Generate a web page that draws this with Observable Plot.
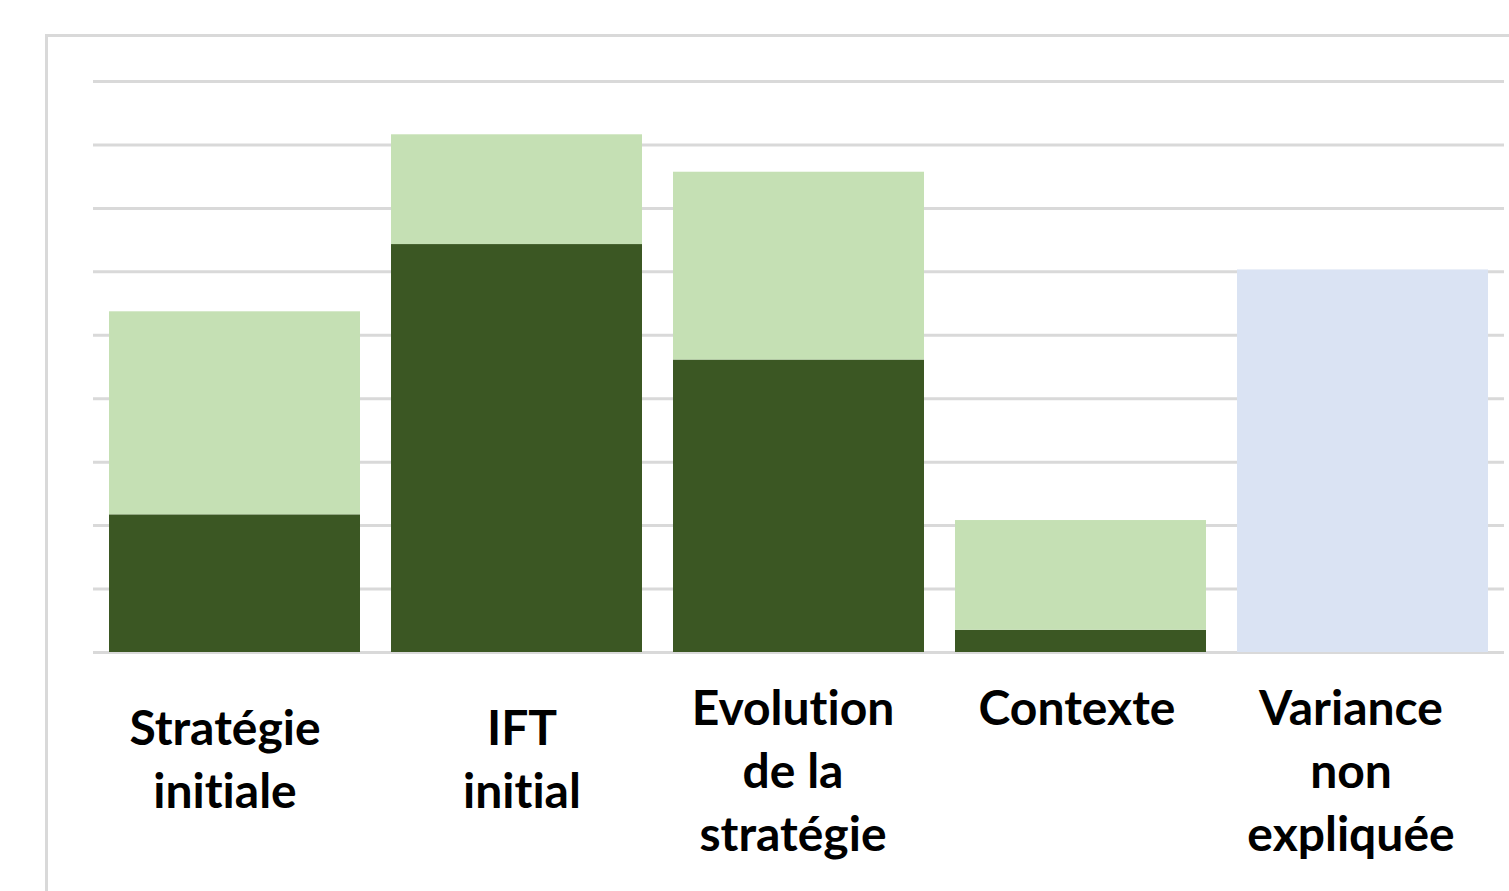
<!DOCTYPE html>
<html>
<head>
<meta charset="utf-8">
<script src="https://cdn.jsdelivr.net/npm/d3@7"></script>
<script src="https://cdn.jsdelivr.net/npm/@observablehq/plot@0.6"></script>
<style>
  html, body { margin: 0; padding: 0; background: #fff; overflow: hidden; }
  #wrap { position: relative; width: 1509px; height: 891px; }
  #border { position: absolute; left: 45px; top: 34px; width: 1500px; height: 900px;
            border-left: 3px solid #d9d9d9; border-top: 3px solid #d9d9d9; }
  #chart { position: absolute; left: 0; top: 0; }
  #chart text { font-variant-ligatures: none; font-feature-settings: "liga" 0; }
</style>
</head>
<body>
<div id="wrap"><div id="border"></div><div id="chart"></div></div>
<script>
const categories = ["Stratégie initiale", "IFT initial", "Evolution de la stratégie", "Contexte", "Variance non expliquée"];
const tickLabels = ["Stratégie\ninitiale", "IFT\ninitial", "Evolution\nde la\nstratégie", "Contexte", "Variance\nnon\nexpliquée"];
const darkValues = [2.17, 6.43, 4.61, 0.35, 0];
const lightValues = [3.20, 1.73, 2.96, 1.73, 0];
const varianceValues = [0, 0, 0, 0, 6.03];
const seriesNames = ["dark", "light", "variance"];
const gridValues = [0, 1, 2, 3, 4, 5, 6, 7, 8, 9];

const table = [];
categories.forEach((c, i) => {
  table.push({category: c, series: "dark", value: darkValues[i]});
  table.push({category: c, series: "light", value: lightValues[i]});
  table.push({category: c, series: "variance", value: varianceValues[i]});
});

const labelRows = categories.map((c, i) => ({category: c, label: tickLabels[i], lines: tickLabels[i].split("\n").length}));
const fs = 48;
// small horizontal nudges of the tick labels, as rendered in the reference
const labelNudge = [-10, 5, -6, -4, -12];
const labelMarks = labelRows.map((d, i) => Plot.text([d], {
  x: "category",
  text: "label",
  frameAnchor: "bottom",
  lineAnchor: "top",
  fontSize: fs,
  fontWeight: "bold",
  fill: "#000",
  lineHeight: 63 / fs,
  dx: labelNudge[i],
  dy: d.lines === 2 ? 48 : 28
}));

const chart = Plot.plot({
  width: 1509,
  height: 891,
  marginLeft: 93,
  marginRight: 5,
  marginTop: 81,
  marginBottom: 239,
  style: {background: "transparent", fontFamily: "Lato, sans-serif"},
  x: {domain: categories, paddingInner: 0.11, paddingOuter: 0.055, axis: null},
  y: {domain: [0, 9], axis: null},
  color: {domain: seriesNames, range: ["#3b5723", "#c5e0b4", "#dae3f3"]},
  marks: [
    Plot.ruleY(gridValues, {stroke: "#d9d9d9", strokeWidth: 3}),
    Plot.barY(table, {x: "category", y: "value", fill: "series", order: seriesNames}),
    ...labelMarks
  ]
});

document.getElementById("chart").appendChild(chart);
</script>
</body>
</html>
